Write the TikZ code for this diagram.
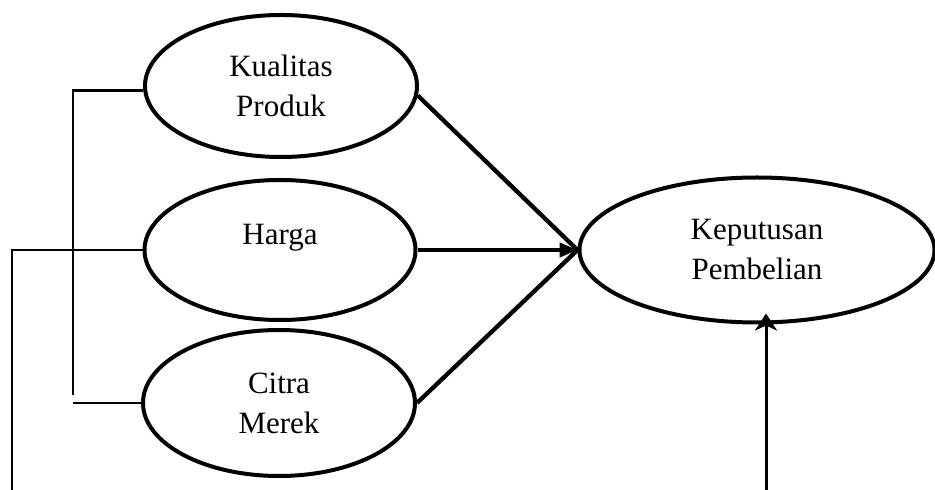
\documentclass[tikz,border=0pt]{standalone}
\usepackage{fontspec}
\setmainfont{Liberation Serif}
\usetikzlibrary{arrows.meta,shapes.geometric}
\tikzset{
  construct/.style={ellipse,draw=black,line width=4pt,inner sep=2pt,align=center,
    font=\fontsize{31}{40}\selectfont},
  flow/.style={line width=4.3pt,draw=black},
  flowtip/.style={flow,-{Triangle[length=18pt,width=14pt]}},
  link/.style={line width=2.7pt,draw=black},
  linkup/.style={line width=3pt,draw=black,-{Stealth[length=17pt,width=22pt,inset=5pt]}},
}
\begin{document}
\begin{tikzpicture}[x=1pt,y=1pt]
  \useasboundingbox (0,0) rectangle (935,490);
  % ---- the three independent variables ----
  \node[construct,minimum width=272pt,minimum height=142pt] (kp) at (281,404) {Kualitas\\Produk};
  \node[construct,minimum width=271pt,minimum height=140pt,text height=22pt,text depth=32pt] (hg) at (280,240) {Harga};
  \node[construct,minimum width=272pt,minimum height=146pt] (cm) at (279,87) {Citra\\Merek};
  % ---- the dependent variable ----
  \node[construct,minimum width=355pt,minimum height=145pt] (kb) at (757,240) {Keputusan\\Pembelian};
  % ---- paths into the decision ----
  \draw[flow] (kp.356) -- (kb.west);
  \draw[flow] (cm.east) -- (kb.west);
  \draw[flowtip] (hg.east) -- (kb.west);
  % ---- side links ----
  \coordinate (brk) at (73,95);
  \coordinate (brkb) at (73,86);
  \coordinate (lowl) at (12,0);
  \coordinate (lowr) at (766,0);
  \draw[link] (kp.182) -| (brk);
  \draw[link] (brkb |- cm.west) -- (cm.west);
  \draw[link] (hg.west) -| (lowl);
  \draw[linkup,shorten >=-11pt] (lowr) -- (lowr |- kb.south);
\end{tikzpicture}
\end{document}
